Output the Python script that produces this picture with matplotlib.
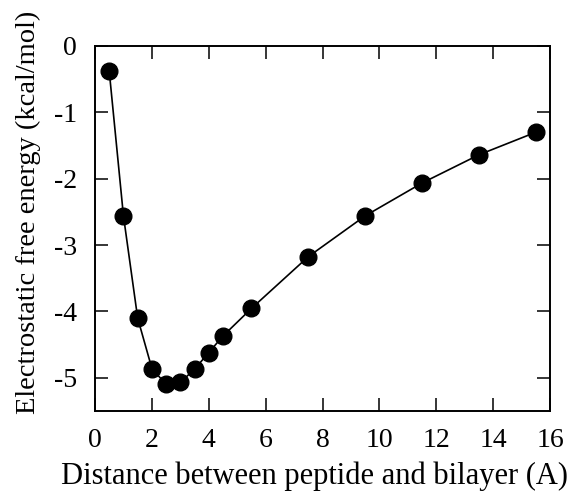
import matplotlib
matplotlib.use("Agg")
import matplotlib.pyplot as plt

plt.rcParams['font.family'] = ['Liberation Serif', 'DejaVu Serif']
plt.rcParams['axes.unicode_minus'] = False

# distance (A) vs electrostatic free energy (kcal/mol)
distance = [0.5, 1.0, 1.5, 2.0, 2.5, 3.0, 3.5, 4.0, 4.5, 5.5, 7.5, 9.5, 11.5, 13.5, 15.5]
energy = [-0.38, -2.56, -4.10, -4.86, -5.10, -5.07, -4.87, -4.62, -4.37,
          -3.955, -3.175, -2.56, -2.065, -1.64, -1.30]

x_ticks = [0, 2, 4, 6, 8, 10, 12, 14, 16]
y_ticks = [0, -1, -2, -3, -4, -5]

fig = plt.figure(figsize=(5.71, 4.96), dpi=100)
ax = fig.add_axes([0.1664, 0.1714, 0.7968, 0.7359])

ax.plot(distance, energy, color='black', linewidth=1.2,
        marker='o', markersize=12, markerfacecolor='black', markeredgecolor='black')

ax.set_xlim(0, 16)
ax.set_ylim(-5.5, 0)
ax.set_xticks(x_ticks)
ax.set_yticks(y_ticks)
ax.set_yticklabels([str(v) for v in y_ticks])

ax.tick_params(direction='in', length=9.5, width=1.1, top=True, right=True,
               labelsize=20)
ax.tick_params(axis='x', pad=12)
ax.tick_params(axis='y', pad=13)
for s in ax.spines.values():
    s.set_linewidth(1.4)

ax.set_xlabel('Distance between peptide and bilayer (A)', fontsize=22, va='center')
ax.xaxis.set_label_coords(0.4835, -0.18)
ax.set_ylabel('Electrostatic free energy (kcal/mol)', fontsize=20.5, va='center')
ax.yaxis.set_label_coords(-0.146, 0.544)

plt.savefig('out.png', dpi=100)
